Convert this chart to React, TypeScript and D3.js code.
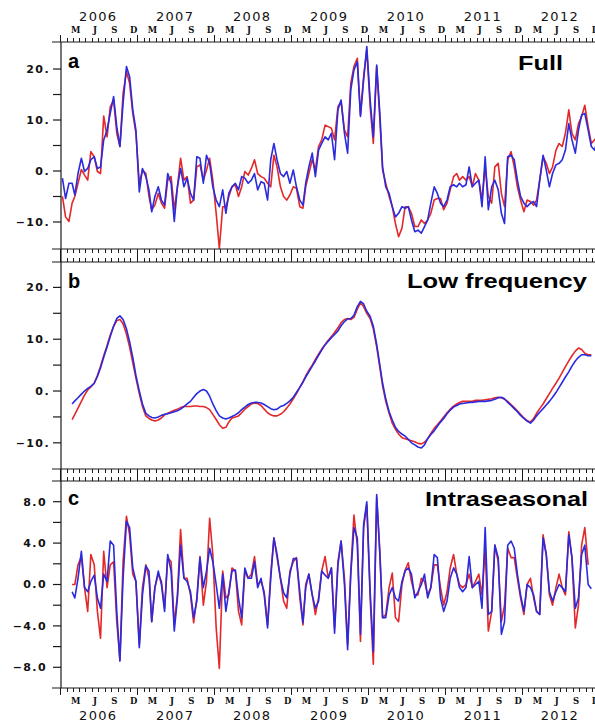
import React from "react";
import * as d3 from "d3";

// three stacked panels, 2006-2012, two samples a month (red / blue series)
const years = [2006, 2007, 2008, 2009, 2010, 2011, 2012];
const seasonLetters = ["M", "J", "S", "D"];
const seasonMonths = [2, 5, 8, 11];

// a: Full
const fullRed = [
  -5.0, -9.0, -9.9, -6.3, -5.0, -2.4, 0.3, -0.8, -1.8, 3.8,
  2.8, -0.1, -0.5, 10.8, 6.7, 12.6, 13.9, 7.4, 4.8, 15.2,
  19.5, 17.2, 11.3, 7.4, -2.4, 0.2, -0.5, -5.0, -7.6, -6.7,
  -4.4, -6.3, -7.3, -1.8, -1.1, -7.6, -3.1, 2.5, -1.8, -1.1,
  -6.3, -5.7, 0.8, 1.2, -1.8, 0.2, 2.5, -1.8, -8.3, -15.2,
  -7.0, -7.0, -5.0, -3.1, -2.7, -5.0, -3.1, -0.1, -0.8, 0.5,
  2.2, -0.5, -1.1, -1.4, -2.4, -3.1, 3.1, 0.8, -3.1, -5.0,
  -5.7, -4.7, -3.1, -3.4, -7.0, -7.3, -3.1, -0.5, 2.2, 0.2,
  4.8, 6.1, 9.0, 8.7, 8.4, 6.1, 12.6, 13.6, 8.0, 6.7,
  17.2, 20.5, 22.1, 11.0, 18.5, 23.7, 12.6, 5.4, 20.5, 10.0,
  0.2, -2.4, -5.0, -7.0, -10.3, -12.9, -11.2, -7.0, -7.0, -8.3,
  -10.9, -10.9, -9.6, -10.3, -9.6, -8.3, -5.7, -5.4, -5.4, -7.6,
  -6.3, -3.7, -1.1, -0.5, -1.8, -1.1, -1.8, -1.1, -3.1, -0.5,
  -1.8, -5.7, 0.8, -5.0, -6.3, 0.8, 1.5, -4.4, -7.0, 2.2,
  3.8, 0.8, -3.1, -5.7, -8.0, -5.7, -6.0, -6.7, -5.7, -1.8,
  2.8, 1.5, -0.5, 0.8, 4.1, 5.4, 4.8, 7.4, 12.0, 7.4,
  6.1, 9.3, 10.7, 12.9, 8.7, 5.4, 6.1, 6.7,
];
const fullBlue = [
  -1.4, -5.4, -2.4, -2.4, -4.7, -0.5, 2.5, -0.1, 0.5, 2.2,
  2.8, 0.5, 0.8, 6.1, 8.0, 11.3, 14.6, 8.7, 4.8, 13.3,
  20.5, 18.5, 12.0, 8.0, -4.1, 0.5, -1.1, -3.7, -8.0, -5.0,
  -3.1, -5.7, -6.7, -0.5, -2.4, -9.9, -3.1, 0.5, -3.1, -1.4,
  -4.4, -5.7, 2.8, 2.5, -2.4, 3.1, 1.5, -3.1, -5.7, -7.0,
  -3.7, -8.3, -4.4, -3.1, -2.4, -3.7, -1.1, -1.4, -2.4, -1.8,
  -0.5, -3.7, -2.1, -2.4, -5.7, 2.2, 5.4, 2.2, -0.5, -1.1,
  -0.1, -2.4, 0.2, -3.1, -5.7, -6.7, -2.4, 0.8, 3.5, -1.1,
  4.1, 5.4, 6.7, 6.1, 7.4, 2.2, 12.0, 13.9, 7.4, 3.5,
  15.9, 19.8, 21.4, 10.7, 17.9, 24.4, 13.9, 6.7, 20.8, 11.3,
  0.8, -3.1, -4.4, -7.0, -9.0, -8.3, -7.0, -7.3, -7.0, -9.6,
  -11.9, -11.6, -12.2, -10.9, -9.6, -6.3, -3.1, -4.4, -6.3, -7.0,
  -5.7, -3.1, -2.7, -3.1, -2.4, -3.1, -2.7, 0.8, -3.1, -2.4,
  -1.8, -7.0, 2.8, -7.6, -3.1, -1.8, -3.7, -8.3, -10.3, 2.8,
  3.1, 2.2, -1.8, -5.0, -6.3, -7.0, -6.3, -6.0, -7.0, -1.8,
  3.1, 0.2, -3.1, -0.5, 1.2, 1.5, 2.2, 4.1, 9.3, 6.1,
  3.5, 8.0, 11.0, 11.3, 8.0, 4.8, 4.1, 6.1,
];

// b: Low frequency
const lowRed = [
  null, null, null, -5.5, -4.5, -3.3, -2.0, -0.8, 0.2, 0.8,
  1.5, 3.0, 4.8, 6.8, 8.8, 10.8, 12.5, 13.6, 13.8, 13.0,
  11.0, 8.5, 5.5, 2.5, -0.5, -3.0, -4.8, -5.3, -5.6, -5.8,
  -5.6, -5.2, -4.6, -4.3, -4.0, -3.7, -3.5, -3.2, -3.0, -3.0,
  -3.0, -2.9, -2.9, -3.0, -3.0, -3.2, -3.6, -4.5, -5.5, -6.5,
  -7.2, -7.0, -6.0, -5.2, -5.0, -4.8, -4.2, -3.5, -3.0, -2.5,
  -2.3, -2.4, -2.8, -3.5, -4.2, -4.6, -4.8, -4.8, -4.5, -4.0,
  -3.3, -2.5, -1.5, -0.5, 0.7, 1.8, 2.9, 4.0, 5.0, 6.1,
  7.1, 8.1, 9.0, 9.8, 10.5, 11.3, 12.2, 13.2, 13.8, 14.0,
  13.8, 14.2, 15.8, 17.0, 16.3, 15.0, 14.0, 12.0, 8.5, 4.5,
  1.0, -2.0, -4.3, -6.2, -7.4, -8.3, -9.0, -9.2, -9.4, -9.6,
  -9.8, -10.1, -10.2, -9.9, -9.2, -8.2, -7.2, -6.5, -5.8, -5.0,
  -4.2, -3.5, -2.9, -2.5, -2.2, -2.0, -2.0, -2.0, -2.0, -1.8,
  -1.8, -1.8, -1.7, -1.6, -1.5, -1.3, -1.2, -1.3, -1.6, -2.0,
  -2.6, -3.2, -3.8, -4.5, -5.2, -5.7, -6.0, -5.3, -4.3, -3.4,
  -2.5, -1.5, -0.5, 0.5, 1.5, 2.5, 3.6, 4.7, 5.8, 6.8,
  7.7, 8.3, 8.0, 7.3, 7.0, 7.0, null, null,
];
const lowBlue = [
  null, null, null, -2.5, -1.9, -1.3, -0.6, 0.0, 0.5, 0.9,
  1.5, 2.8, 4.5, 6.5, 8.5, 10.5, 12.5, 14.0, 14.5, 13.8,
  12.0, 9.5, 6.5, 3.0, 0.0, -2.5, -4.3, -4.8, -5.1, -5.2,
  -5.0, -4.7, -4.5, -4.4, -4.2, -4.0, -3.8, -3.5, -3.0, -2.5,
  -2.0, -1.2, -0.5, 0.0, 0.3, 0.0, -1.0, -2.5, -3.8, -4.8,
  -5.2, -5.4, -5.2, -4.9, -4.6, -4.2, -3.6, -3.1, -2.6, -2.3,
  -2.2, -2.2, -2.3, -2.6, -3.0, -3.4, -3.6, -3.5, -3.0, -2.8,
  -2.4, -1.9, -1.2, -0.3, 0.7, 1.7, 2.7, 3.7, 4.8, 5.8,
  6.9, 7.9, 8.9, 9.6, 10.3, 10.9, 11.6, 12.6, 13.4, 13.9,
  14.0, 14.6, 16.3, 17.3, 16.8, 15.4, 14.4, 12.5, 9.0, 5.0,
  1.5, -1.5, -4.0, -5.6, -7.0, -7.8, -8.3, -8.7, -9.3, -10.0,
  -10.4, -10.8, -11.0, -10.4, -9.2, -8.4, -7.7, -6.8, -6.0, -5.3,
  -4.4, -3.7, -3.1, -2.8, -2.5, -2.4, -2.3, -2.2, -2.2, -2.1,
  -2.0, -2.0, -2.0, -1.9, -1.8, -1.6, -1.3, -1.2, -1.5, -2.2,
  -2.8, -3.4, -4.0, -4.7, -5.3, -5.8, -6.2, -5.6, -4.8, -4.1,
  -3.4, -2.7, -2.0, -1.2, -0.3, 0.7, 1.7, 2.7, 3.7, 4.8,
  5.8, 6.5, 7.0, 7.0, 6.8, 6.8, null, null,
];

// c: Intraseasonal
const intraRed = [
  null, null, null, 0.0, 0.0, 1.9, 2.7, -0.3, -2.6, 2.9,
  1.9, -2.6, -5.2, 3.2, -0.3, 1.9, 2.2, -3.6, -7.3, 2.2,
  6.6, 4.8, 1.0, 0.3, -5.8, -0.3, 1.9, 0.6, -3.6, -0.3,
  1.0, 0.3, -2.3, 2.6, 2.2, -3.9, -1.0, 5.3, 0.6, 0.6,
  -1.0, -3.7, -1.3, 2.7, -2.0, 0.3, 6.4, 2.9, -4.2, -8.1,
  1.3, -1.3, -1.0, 1.6, 1.3, -2.6, -3.9, 1.3, 0.6, 1.0,
  2.7, 0.0, 0.3, -0.7, -3.9, 1.0, 4.5, 2.6, 0.6, -1.6,
  -2.3, 1.3, 2.2, 2.6, -1.3, -3.9, 0.0, 1.0, -1.0, -2.9,
  -1.3, 1.3, 2.7, 0.6, 1.6, -4.2, 2.2, 4.2, 0.6, -5.8,
  1.3, 6.7, 3.8, -5.5, 5.5, 7.7, -1.3, -7.7, 8.4, 3.2,
  -3.2, -2.9, -0.3, 1.1, -3.2, -3.6, 0.0, 1.4, 2.1, 0.3,
  -1.0, -1.0, 0.6, 0.3, -1.0, -0.3, 1.9, 1.9, -0.3, -2.0,
  -0.7, 1.6, 2.9, 1.0, 0.0, -0.3, 0.0, 1.0, -0.3, 0.3,
  1.0, -1.0, 3.5, -4.5, -2.6, 3.8, 2.2, -3.6, -2.0, 3.5,
  2.6, 2.6, 0.6, -1.3, -2.9, 0.0, 0.6, -1.3, -2.6, -2.9,
  4.8, 2.9, -1.0, -2.0, -0.3, 1.0, -0.3, -1.0, 5.1, 2.6,
  -4.2, -2.0, 3.8, 5.5, 1.9, null, null, null,
];
const intraBlue = [
  null, null, null, -0.7, -1.3, 0.6, 3.2, -0.3, -0.7, 0.3,
  0.9, -1.3, -2.3, 1.0, 0.3, 4.2, 3.8, -2.6, -7.4, 0.6,
  6.1, 5.5, 1.6, 0.3, -6.1, -1.0, 1.8, 1.3, -3.6, -0.3,
  1.3, 0.0, -2.6, 2.9, 1.3, -4.5, -1.3, 3.8, 0.6, 0.3,
  -0.7, -3.2, -1.6, 2.6, -0.3, 1.3, 3.5, 2.2, 0.0, -2.3,
  1.0, -2.6, -0.7, 1.3, 1.4, -1.3, -3.2, 1.6, 0.6, 0.6,
  2.2, -0.3, 0.6, -1.0, -4.2, 0.6, 4.5, 2.9, 0.6, -0.8,
  -1.3, 1.0, 2.5, 2.5, -0.7, -3.7, -0.3, 1.0, -1.0, -2.3,
  -1.6, 1.3, 0.9, 0.6, 1.6, -4.7, 1.9, 4.2, 0.0, -6.3,
  1.0, 5.5, 4.5, -4.8, 5.8, 8.0, -0.7, -6.5, 8.7, 2.9,
  -3.2, -3.2, -1.0, -0.3, -1.3, -1.6, 0.3, 1.3, 1.6, 1.0,
  -1.3, -0.7, 0.0, 1.0, -1.3, -0.3, 2.9, 2.6, -1.3, -2.6,
  -1.6, 0.6, 1.6, 1.0, -0.3, -0.7, -0.3, 2.7, -0.3, 0.0,
  0.3, -2.3, 5.5, -2.9, -2.6, 3.8, 2.6, -4.8, -3.6, 3.8,
  4.2, 3.5, 1.0, -1.0, -2.6, 0.0, -0.3, -1.0, -2.6, -2.9,
  4.5, 2.9, -0.7, -1.6, -0.7, 0.0, -0.3, -0.7, 4.8, 2.6,
  -2.3, -1.3, 2.9, 3.8, 0.0, -0.4, null, null,
];

// sample i sits in the first or second half of month floor(i/2)
const sampleDates = d3.range(fullRed.length).map(
  (i) => new Date(2006, Math.floor(i / 2), i % 2 ? 27 : 12)
);

const RED = "#e3282a";
const BLUE = "#2a2ade";
const AXIS = "#1a1a1a";

const W = 595;
const H = 721;
const axisX = 61;
const lineStart = 52;

const x = d3
  .scaleTime()
  .domain([new Date(2006, 0, 1), new Date(2013, 0, 1)])
  .range([60.1, 598.7]);

const monthStarts = d3.timeMonth.range(new Date(2006, 0, 1), new Date(2013, 1, 1));

const minus = (s: string) => s.replace("-", "\u2212");

const panels = [
  {
    key: "a", top: 42, bottom: 249, domain: [-15.3, 25.3],
    red: fullRed, blue: fullBlue, step: 5, labelStep: 10,
    fmt: (v: number) => minus(`${v}.`), labelX: 50,
    title: "Full", titleX: 518, titleY: 70, titleW: 45, letterY: 68,
  },
  {
    key: "b", top: 262, bottom: 469, domain: [-15.05, 24.9],
    red: lowRed, blue: lowBlue, step: 5, labelStep: 10,
    fmt: (v: number) => minus(`${v}.`), labelX: 50,
    title: "Low frequency", titleX: 407, titleY: 288, titleW: 180, letterY: 288,
  },
  {
    key: "c", top: 481, bottom: 688, domain: [-10, 10],
    red: intraRed, blue: intraBlue, step: 2, labelStep: 4,
    fmt: (v: number) => minus(v.toFixed(1)), labelX: 47,
    title: "Intraseasonal", titleX: 425, titleY: 506, titleW: 163, letterY: 505,
  },
];

function Panel({ p }: { p: (typeof panels)[number] }) {
  const y = d3.scaleLinear().domain(p.domain).range([p.bottom, p.top]);
  const line = d3
    .line<number | null>()
    .defined((v) => v != null)
    .x((_, i) => x(sampleDates[i]))
    .y((v) => y(v as number));
  const ticks = d3
    .range(Math.ceil(p.domain[0] / p.step) * p.step, p.domain[1] + 1e-9, p.step)
    .filter((v) => y(v) > p.top + 2 && y(v) < p.bottom - 2);
  const clipId = `clip-${p.key}`;
  return (
    <g>
      <clipPath id={clipId}>
        <rect x={axisX} y={p.top} width={W - axisX} height={p.bottom - p.top} />
      </clipPath>
      <g clipPath={`url(#${clipId})`} fill="none" strokeWidth={1.6} strokeLinejoin="round">
        <path d={line(p.red) ?? ""} stroke={RED} />
        <path d={line(p.blue) ?? ""} stroke={BLUE} />
      </g>

      {/* frame lines */}
      <line x1={lineStart} x2={W} y1={p.top} y2={p.top} stroke={AXIS} strokeWidth={1.2} />
      <line x1={lineStart} x2={W} y1={p.bottom} y2={p.bottom} stroke={AXIS} strokeWidth={1.2} />

      {/* month ticks, outward */}
      {monthStarts.map((d, i) => {
        const big = d.getMonth() === 0;
        const len = big ? 7 : 4;
        const xx = Math.round(x(d)) + 0.5;
        return (
          <g key={i} stroke={AXIS} strokeWidth={1}>
            <line x1={xx} x2={xx} y1={p.top} y2={p.top - len} />
            <line x1={xx} x2={xx} y1={p.bottom} y2={p.bottom + len} />
          </g>
        );
      })}

      {/* y ticks and labels */}
      {ticks.map((v) => (
        <line key={v} x1={53} x2={axisX} y1={y(v)} y2={y(v)} stroke={AXIS} strokeWidth={1.2} />
      ))}
      {ticks
        .filter((v) => Math.abs(v % p.labelStep) < 1e-9)
        .map((v) => (
          <text
            key={v}
            x={p.labelX}
            y={y(v)}
            dy="0.36em"
            textAnchor="end"
            fontFamily="DejaVu Sans"
            fontWeight="bold"
            fontSize={11}
            letterSpacing={1.4}
            fill="#111"
          >
            {p.fmt(v)}
          </text>
        ))}

      <text x={68} y={p.letterY} fontFamily="Liberation Sans" fontWeight="bold" fontSize={20} fill="#000">
        {p.key}
      </text>
      <text
        x={p.titleX}
        y={p.titleY}
        textLength={p.titleW}
        lengthAdjust="spacingAndGlyphs"
        fontFamily="Liberation Sans"
        fontWeight="bold"
        fontSize={20}
        fill="#000"
      >
        {p.title}
      </text>
    </g>
  );
}

function TimeLabels({ monthY, yearY }: { monthY: number; yearY: number }) {
  return (
    <g fill="#111">
      {years.map((yr) => (
        <g key={yr}>
          <text
            x={x(new Date(yr, 6, 1))}
            y={yearY}
            textAnchor="middle"
            fontFamily="DejaVu Sans"
            fontSize={13}
            letterSpacing={1.3}
          >
            {yr}
          </text>
          {seasonMonths.map((m, k) => (
            <text
              key={m}
              x={x(new Date(yr, m, 16))}
              y={monthY}
              textAnchor="middle"
              fontFamily="DejaVu Serif"
              fontWeight="bold"
              fontSize={8.5}
            >
              {seasonLetters[k]}
            </text>
          ))}
        </g>
      ))}
    </g>
  );
}

export default function App() {
  return (
    <svg
      width={W}
      height={H}
      viewBox={`0 0 ${W} ${H}`}
      style={{ position: "absolute", left: 0, top: 0, background: "#fff" }}
    >
      {panels.map((p) => (
        <Panel key={p.key} p={p} />
      ))}
      <line x1={axisX} x2={axisX} y1={42} y2={688} stroke={AXIS} strokeWidth={1.2} />
      <TimeLabels monthY={33.3} yearY={21} />
      <TimeLabels monthY={703.5} yearY={719.5} />
    </svg>
  );
}
